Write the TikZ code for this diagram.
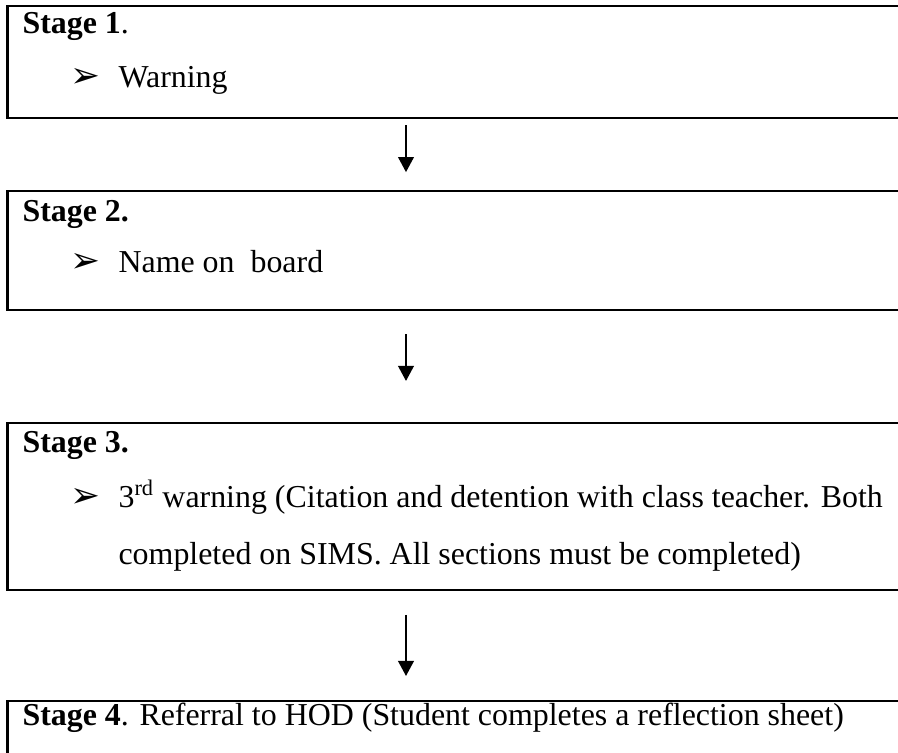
\documentclass[tikz,border=0pt]{standalone}
\usepackage{fontspec}
\setmainfont{Liberation Serif}
\newfontfamily\dingfont{DejaVu Sans}
\usetikzlibrary{arrows.meta}
\tikzset{
  stagebox/.style={draw, line width=.75pt, rectangle, anchor=north west,
    minimum width=12cm, inner sep=0pt},
  head/.style={anchor=base west, inner sep=0pt, font=\fontsize{11.6}{14}\selectfont},
  itemtext/.style={anchor=base west, inner sep=0pt, font=\fontsize{11.6}{14}\selectfont},
  pointer/.style={anchor=base west, inner sep=0pt, font=\dingfont\fontsize{13}{14}\selectfont},
}
\begin{document}
\begin{tikzpicture}[>={Triangle[width=5.7pt,length=5.5pt]}]
\useasboundingbox (0,0) rectangle (11.475,-9.622);
\clip (0,0) rectangle (11.475,-9.622);
% the four stages
\node[stagebox, minimum height=1.431cm] (s1) at (.083,-.064){};
\node[stagebox, minimum height=1.521cm] (s2) at (.083,-2.428){};
\node[stagebox, minimum height=2.134cm] (s3) at (.083,-5.392){};
\node[stagebox, minimum height=1.4cm] (s4) at (.083,-8.944){};
% stage 1
\node[head] (h1) at (.281,-.422){\textbf{Stage 1}.};
\node[pointer] (p1) at (.90,-1.124){➢};
\node[itemtext] (t1) at (1.508,-1.124){Warning};
% stage 2
\node[head] (h2) at (.281,-2.824){\textbf{Stage 2.}};
\node[pointer] (p2) at (.90,-3.488){➢};
\node[itemtext] (t2) at (1.508,-3.488){Name on~ board};
% stage 3
\node[head] (h3) at (.281,-5.776){\textbf{Stage 3.}};
\node[pointer] (p3) at (.90,-6.491){➢};
\node[itemtext] (t3) at (1.508,-6.491){3\textsuperscript{rd} warning (Citation and detention with class teacher. Both};
\node[itemtext] (t3b) at (1.508,-7.219){completed on SIMS. All sections must be completed)};
% stage 4
\node[head] (h4) at (.281,-9.27){\textbf{Stage 4}. Referral to HOD (Student completes a reflection sheet)};
% arrows between stages
\coordinate (ax) at (5.188,0);
\draw[->, line width=.73pt, shorten <=2.2pt, shorten >=6.5pt] (s1.south -| ax) -- (s2.north -| ax);
\draw[->, line width=.73pt, shorten <=8.4pt, shorten >=14.9pt] (s2.south -| ax) -- (s3.north -| ax);
\draw[->, line width=.73pt, shorten <=8.7pt, shorten >=8.7pt] (s3.south -| ax) -- (s4.north -| ax);
\end{tikzpicture}
\end{document}
